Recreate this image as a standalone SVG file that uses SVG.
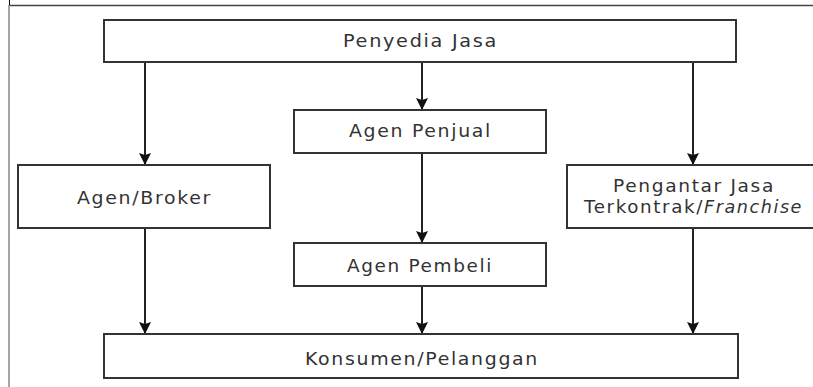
<svg xmlns="http://www.w3.org/2000/svg" width="813" height="387" viewBox="0 0 813 387">
<defs>
<style>
.box{fill:#fff;stroke:#333;stroke-width:2}
.lbl{font-family:"DejaVu Sans",Verdana,sans-serif;font-size:17px;letter-spacing:1.5px;fill:#333}
.it{font-style:italic}
.conn{stroke:#222;stroke-width:2;fill:none;marker-end:url(#ah)}
.frame{stroke:#444;stroke-width:1.5;fill:none}
</style>
<marker id="ah" viewBox="0 0 12 12" refX="11" refY="6" markerWidth="12" markerHeight="12" markerUnits="userSpaceOnUse" orient="auto">
<path d="M0,0 L6,2 L12,0 L6,12 Z" transform="rotate(-90 6 6)" fill="#111"/>
</marker>
</defs>
<rect width="813" height="387" fill="#fff"/>
<g id="frame">
<line class="frame" x1="9" y1="5.5" x2="813" y2="5.5"/>
<line x1="9" y1="5" x2="9" y2="387" stroke="#888" stroke-width="1.5"/>
<line x1="9.5" y1="0" x2="9.5" y2="5" stroke="#000" stroke-width="1"/>
</g>
<g id="connectors">
<line class="conn" x1="145" y1="62" x2="145" y2="164"/>
<line class="conn" x1="422" y1="62" x2="422" y2="109"/>
<line class="conn" x1="693" y1="62" x2="693" y2="164"/>
<line class="conn" x1="422" y1="153" x2="422" y2="242"/>
<line class="conn" x1="145" y1="228" x2="145" y2="333"/>
<line class="conn" x1="422" y1="286" x2="422" y2="333"/>
<line class="conn" x1="693" y1="228" x2="693" y2="333"/>
</g>
<g id="penyedia">
<rect class="box" x="104" y="20" width="632" height="42"/>
<text class="lbl" x="343" y="47" textLength="155" lengthAdjust="spacingAndGlyphs">Penyedia Jasa</text>
</g>
<g id="agen-broker">
<rect class="box" x="18" y="165" width="252" height="63"/>
<text class="lbl" x="77" y="204" textLength="135" lengthAdjust="spacingAndGlyphs">Agen/Broker</text>
</g>
<g id="agen-penjual">
<rect class="box" x="294" y="110" width="252" height="43"/>
<text class="lbl" x="349" y="137" textLength="143" lengthAdjust="spacingAndGlyphs">Agen Penjual</text>
</g>
<g id="pengantar">
<rect class="box" x="567" y="165" width="260" height="63"/>
<text class="lbl" x="613" y="192" textLength="162" lengthAdjust="spacingAndGlyphs">Pengantar Jasa</text>
<text class="lbl" y="213"><tspan x="584" textLength="120" lengthAdjust="spacingAndGlyphs">Terkontrak/</tspan><tspan class="it" textLength="99" lengthAdjust="spacingAndGlyphs">Franchise</tspan></text>
</g>
<g id="agen-pembeli">
<rect class="box" x="294" y="243" width="252" height="43"/>
<text class="lbl" x="347" y="272" textLength="146" lengthAdjust="spacingAndGlyphs">Agen Pembeli</text>
</g>
<g id="konsumen">
<rect class="box" x="104" y="334" width="634" height="44"/>
<text class="lbl" x="305" y="365" textLength="234" lengthAdjust="spacingAndGlyphs">Konsumen/Pelanggan</text>
</g>
</svg>
